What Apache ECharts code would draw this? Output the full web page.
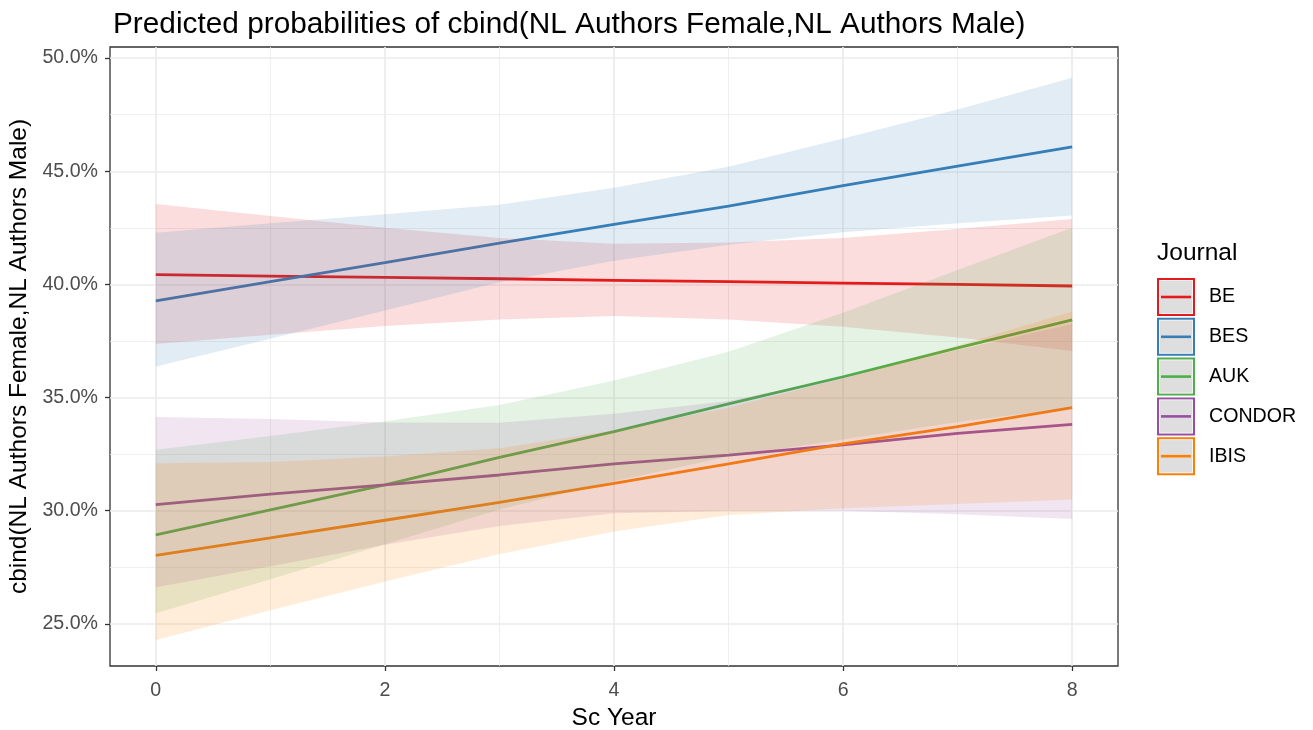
<!DOCTYPE html>
<html>
<head>
<meta charset="utf-8">
<script src="https://cdn.jsdelivr.net/npm/echarts@6/dist/echarts.min.js"></script>
<style>html,body{margin:0;padding:0;background:#fff}#c{width:1313px;height:730px}</style>
</head>
<body>
<div id="c"></div>
<script>
const years = [0, 1, 2, 3, 4, 5, 6, 7, 8];
const journals = ['BE', 'BES', 'AUK', 'CONDOR', 'IBIS'];
const colors = ['#E41A1C', '#377EB8', '#4DAF4A', '#984EA3', '#FF7F00'];

const beFit = [40.43, 40.37, 40.31, 40.25, 40.18, 40.12, 40.06, 40.00, 39.93];
const beLo  = [37.37, 37.78, 38.16, 38.45, 38.60, 38.45, 38.13, 37.65, 37.06];
const beHi  = [43.55, 43.02, 42.50, 42.05, 41.80, 41.85, 42.05, 42.45, 42.89];

const besFit = [39.27, 40.12, 40.96, 41.82, 42.65, 43.46, 44.36, 45.23, 46.08];
const besLo  = [36.37, 37.60, 38.85, 40.10, 41.05, 41.75, 42.30, 42.70, 43.04];
const besHi  = [42.28, 42.70, 43.10, 43.52, 44.27, 45.20, 46.45, 47.73, 49.13];

const aukFit = [28.93, 30.04, 31.14, 32.36, 33.50, 34.72, 35.92, 37.20, 38.43];
const aukLo  = [25.47, 26.97, 28.52, 30.05, 31.30, 32.40, 33.15, 33.92, 34.55];
const aukHi  = [32.69, 33.30, 33.95, 34.67, 35.75, 37.03, 38.75, 40.64, 42.50];

const condorFit = [30.27, 30.73, 31.14, 31.58, 32.07, 32.46, 32.91, 33.42, 33.82];
const condorLo  = [26.62, 27.55, 28.50, 29.33, 29.89, 30.00, 30.00, 29.85, 29.64];
const condorHi  = [34.14, 34.05, 33.90, 33.89, 34.28, 34.85, 35.90, 37.10, 38.25];

const ibisFit = [28.03, 28.80, 29.58, 30.37, 31.21, 32.07, 32.95, 33.72, 34.56];
const ibisLo  = [24.29, 25.60, 26.87, 28.09, 29.08, 29.81, 30.11, 30.30, 30.50];
const ibisHi  = [32.10, 32.15, 32.40, 32.76, 33.55, 34.55, 35.85, 37.30, 38.80];

const xTicks = [0, 2, 4, 6, 8];
const xMinor = [1, 3, 5, 7];
const yTicks = [25, 30, 35, 40, 45, 50];
const yMinor = [27.5, 32.5, 37.5, 42.5, 47.5];

const fits = [beFit, besFit, aukFit, condorFit, ibisFit];
const los = [beLo, besLo, aukLo, condorLo, ibisLo];
const his = [beHi, besHi, aukHi, condorHi, ibisHi];

const FONT = "'Liberation Sans', Arial, Helvetica, sans-serif";

function hexA(hex, a) {
  const n = parseInt(hex.slice(1), 16);
  return 'rgba(' + ((n >> 16) & 255) + ',' + ((n >> 8) & 255) + ',' + (n & 255) + ',' + a + ')';
}

const series = [];
series.push({
  type: 'line', data: [], z: 1, silent: true,
  markLine: {
    z: 1, silent: true, symbol: 'none', animation: false, label: { show: false },
    data: [
      ...xMinor.map(v => ({ xAxis: v, lineStyle: { color: '#ebebeb', width: 0.8, type: 'solid' } })),
      ...yMinor.map(v => ({ yAxis: v, lineStyle: { color: '#ebebeb', width: 0.8, type: 'solid' } })),
      ...xTicks.map(v => ({ xAxis: v, lineStyle: { color: '#ebebeb', width: 1.7, type: 'solid' } })),
      ...yTicks.map(v => ({ yAxis: v, lineStyle: { color: '#ebebeb', width: 1.7, type: 'solid' } }))
    ]
  }
});

journals.forEach((j, k) => {
  series.push({
    name: j, type: 'line', z: 2,
    data: years.map((x, i) => [x, fits[k][i]]),
    showSymbol: false, symbol: 'none',
    lineStyle: { color: colors[k], width: 2.8 },
    itemStyle: { color: colors[k] },
    animation: false
  });
});

journals.forEach((j, k) => {
  const lo = los[k], hi = his[k];
  series.push({
    name: j + ' ci', type: 'custom', z: 3, silent: true,
    data: years.map((x, i) => [x, lo[i], hi[i]]),
    encode: { x: 0, y: [1, 2] },
    renderItem: function (params, api) {
      if (params.dataIndex !== 0) return null;
      const pts = [];
      for (let i = 0; i < years.length; i++) pts.push(api.coord([years[i], hi[i]]));
      for (let i = years.length - 1; i >= 0; i--) pts.push(api.coord([years[i], lo[i]]));
      return {
        type: 'polygon',
        shape: { points: pts },
        style: { fill: hexA(colors[k], 0.15), stroke: null }
      };
    },
    animation: false
  });
});

const legendEls = [{
  type: 'text', left: 1157, top: 241,
  style: { text: 'Journal', font: '24.5px ' + FONT, fill: '#000' }
}];
journals.forEach((j, k) => {
  const y0 = 278 + k * 39.8;
  legendEls.push({
    type: 'rect', shape: { x: 1158, y: y0 + 1, width: 36, height: 36 },
    style: { fill: '#dedede', stroke: colors[k], lineWidth: 2 }
  });
  legendEls.push({
    type: 'rect', shape: { x: 1159.5, y: y0 + 2.5, width: 33, height: 33 },
    style: { fill: 'none', stroke: 'rgba(255,255,255,0.6)', lineWidth: 1 }
  });
  legendEls.push({
    type: 'line', shape: { x1: 1161, y1: y0 + 19, x2: 1191, y2: y0 + 19 },
    style: { stroke: colors[k], lineWidth: 2.6 }
  });
  legendEls.push({
    type: 'text', x: 1209, y: y0 + 19,
    style: { text: j, font: '19.6px ' + FONT, fill: '#000', verticalAlign: 'middle' }
  });
});

const option = {
  animation: false,
  backgroundColor: '#ffffff',
  title: {
    text: 'Predicted probabilities of cbind(NL Authors Female,NL Authors Male)',
    left: 108, top: 5,
    textStyle: { fontFamily: FONT, fontSize: 29.8, fontWeight: 'normal', color: '#000' }
  },
  grid: {
    left: 110, right: 195, top: 47, bottom: 64,
    containLabel: false, outerBoundsMode: 'none',
    show: true, borderColor: '#333333', borderWidth: 1.3, backgroundColor: '#fff'
  },
  xAxis: {
    type: 'value', min: -0.4, max: 8.4,
    name: 'Sc Year', nameLocation: 'middle', nameGap: 38,
    nameTextStyle: { fontFamily: FONT, fontSize: 24.5, color: '#000' },
    axisLine: { show: false, onZero: false },
    axisTick: { show: true, length: 5, customValues: xTicks, lineStyle: { color: '#333333', width: 1.3 } },
    axisLabel: { customValues: xTicks, margin: 15, fontFamily: FONT, fontSize: 19.6, color: '#4d4d4d',
      formatter: v => String(v) },
    splitLine: { show: false }
  },
  yAxis: {
    type: 'value', min: 23.14, max: 50.49,
    name: 'cbind(NL Authors Female,NL Authors Male)', nameLocation: 'middle', nameGap: 72,
    nameTextStyle: { fontFamily: FONT, fontSize: 24.5, color: '#000' },
    axisLine: { show: false, onZero: false },
    axisTick: { show: true, length: 5, customValues: yTicks, lineStyle: { color: '#333333', width: 1.3 } },
    axisLabel: { customValues: yTicks, margin: 12, fontFamily: FONT, fontSize: 19.6, color: '#4d4d4d',
      formatter: v => v.toFixed(1) + '%' },
    splitLine: { show: false }
  },
  graphic: legendEls,
  series: series
};

const chart = echarts.init(document.getElementById('c'), null, { renderer: 'canvas' });
chart.setOption(option);
</script>
</body>
</html>
